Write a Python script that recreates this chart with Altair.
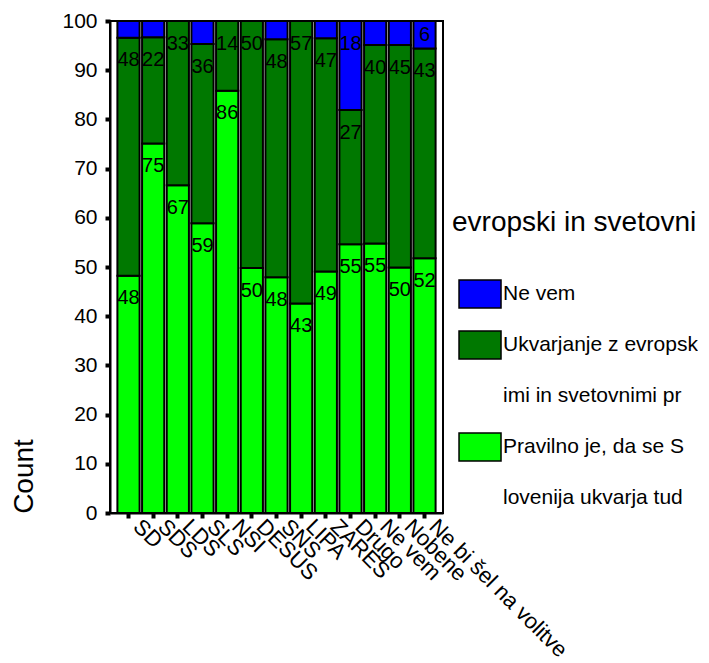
import altair as alt
import pandas as pd

parties = ["SD", "SDS", "LDS", "SLS", "NSI", "DESUS", "SNS", "LIPA", "ZARES",
           "Drugo", "Ne vem", "Nobene", "Ne bi šel na volitve"]
categories = ["Ne vem",
              "Ukvarjanje z evropskimi in svetovnimi pr",
              "Pravilno je, da se Slovenija ukvarja tud"]
colors = ["#0000FF", "#007800", "#00FF00"]

pravilno = [48.2, 75.1, 66.6, 58.9, 85.8, 49.8, 47.9, 42.6, 49.1, 54.6, 54.8, 49.9, 51.8]
ukvarjanje = [48.4, 21.6, 33.4, 36.4, 14.2, 50.2, 48.4, 57.4, 47.4, 27.3, 40.3, 45.2, 42.6]
ne_vem = [3.4, 3.3, 0.0, 4.7, 0.0, 0.0, 3.7, 0.0, 3.5, 18.1, 4.9, 4.9, 5.6]
# value labels printed inside the segments ("" = not printed)
lbl_pravilno = ["48", "75", "67", "59", "86", "50", "48", "43", "49", "55", "55", "50", "52"]
lbl_ukvarjanje = ["48", "22", "33", "36", "14", "50", "48", "57", "47", "27", "40", "45", "43"]
lbl_ne_vem = ["", "", "", "", "", "", "", "", "", "18", "", "", "6"]

rows = []
series = [(categories[2], pravilno, lbl_pravilno, 0),
          (categories[1], ukvarjanje, lbl_ukvarjanje, 1),
          (categories[0], ne_vem, lbl_ne_vem, 2)]
for cat, vals, lbls, rank in series:
    for p, v, l in zip(parties, vals, lbls):
        rows.append({"party": p, "cat": cat, "value": v, "lbl": l, "rank": rank})
df = pd.DataFrame(rows)

# legend: long category names wrap after 20 characters onto a second row
WRAP = 20
legend_domain = []
fill_range = []
stroke_range = []
for c, col in zip(categories, colors):
    legend_domain.append(c)
    fill_range.append(col)
    stroke_range.append("black")
    if len(c) > WRAP:
        legend_domain.append(c[WRAP:])
        fill_range.append("transparent")
        stroke_range.append("transparent")

FONT = "Liberation Sans"
NBSP = "\u00a0"

legend = alt.Legend(
    orient="none", legendX=342, legendY=188,
    title="evropski in svetovni", titleFontSize=28,
    titleFontWeight="normal", titleColor="black", titleLimit=400,
    titlePadding=42,
    labelFontSize=21, labelColor="black", labelLimit=400,
    labelBaseline="middle", labelOffset=21,
    labelExpr=f"substring(datum.label, 0, {WRAP})",
    symbolType="M-0.57,-1L2.43,-1L2.43,1L-0.57,1Z",
    symbolSize=784, symbolStrokeWidth=1.5, symbolOpacity=1,
    rowPadding=17, padding=0)

base = alt.Chart(df).transform_stack(
    stack="value", groupby=["party"], as_=["y0", "y1"],
    sort=[alt.SortField("rank", order="ascending")]
)

x_enc = alt.X("party:N", sort=parties,
              scale=alt.Scale(paddingInner=0.1, paddingOuter=0.3),
              axis=alt.Axis(title=None, labelAngle=45, labelAlign="left",
                            labelBaseline="bottom", labelFontSize=22, labelPadding=13,
                            labelExpr=f"'{NBSP}{NBSP}' + datum.label",
                            labelOverlap=False, labelLimit=400,
                            tickSize=5, tickWidth=4, tickColor="black",
                            domainColor="black", domainWidth=2, labelColor="black"))

bars = base.mark_bar(strokeWidth=2, opacity=1).encode(
    x=x_enc,
    y=alt.Y("y0:Q", scale=alt.Scale(domain=[0, 100], nice=False),
            axis=alt.Axis(title="Count", values=list(range(0, 101, 10)),
                          labelFontSize=21, labelPadding=8, labelColor="black",
                          titleFontSize=28, titleFontWeight="normal", titleColor="black",
                          titleAngle=270, titleX=-86, titleY=455,
                          titleAlign="center", titleBaseline="middle",
                          tickSize=5, tickWidth=4, tickColor="black",
                          domainColor="black", domainWidth=2, grid=False)),
    y2="y1:Q",
    color=alt.Color("cat:N", scale=alt.Scale(domain=legend_domain, range=fill_range),
                    legend=legend),
    stroke=alt.Stroke("cat:N", scale=alt.Scale(domain=legend_domain, range=stroke_range),
                      legend=legend),
)

texts = base.transform_filter("datum.lbl != ''").transform_calculate(
    ylab="datum.y1 - min(4.6, (datum.y1 - datum.y0) / 2)"
).mark_text(fontSize=20, font=FONT, color="black", baseline="middle").encode(
    x=alt.X("party:N", sort=parties),
    y=alt.Y("ylab:Q"),
    text="lbl:N",
)

chart = alt.layer(bars, texts).properties(
    width=333, height=492, padding={"left": 2, "top": 2, "right": 0, "bottom": 0}
).configure(font=FONT).configure_view(stroke="black", strokeWidth=2)

chart.save("out.html", embed_options={"renderer": "svg", "actions": False})
